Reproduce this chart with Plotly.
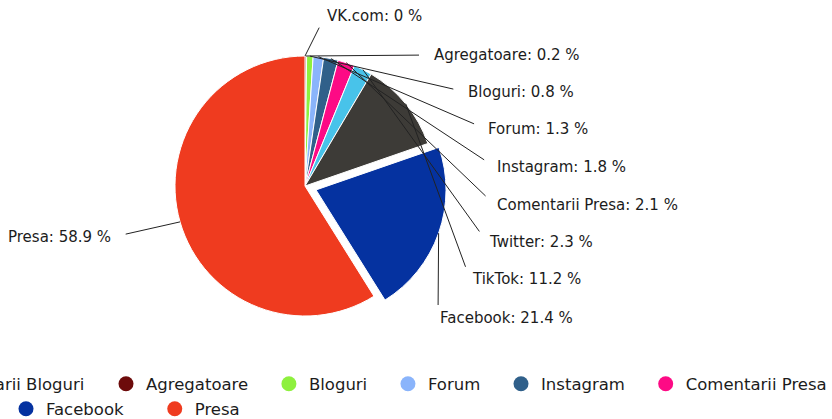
import math
import plotly.graph_objects as go

# slices, clockwise from 12 o'clock
labels = ["VK.com", "Agregatoare", "Bloguri", "Forum", "Instagram",
          "Comentarii Presa", "Twitter", "TikTok", "Facebook", "Presa"]
values = [0, 0.2, 0.8, 1.3, 1.8, 2.1, 2.3, 11.2, 21.4, 58.9]
colors = ["#f7a35c", "#6d0b0b", "#8ef03e", "#8ab4fb", "#30608a",
          "#fd0a85", "#48c3ea", "#3d3b37", "#0532a0", "#ef3b1f"]

# legend rows visible under the pie
legend_row1a = ["Comentarii Bloguri"]
legend_row1b = ["Agregatoare", "Bloguri", "Forum", "Instagram", "Comentarii Presa"]
legend_row2 = ["Facebook", "Presa"]
color_of = dict(zip(labels, colors))
color_of["Comentarii Bloguri"] = "#e4d354"

W, H = 832, 419
CX, CY, R = 305, 186, 130
PULL = 0.09
FONT = "DejaVu Sans"

# where each data label sits (left/right edge x, centre y, anchor) in px
label_pos = {
    "VK.com": (325, 16, "left"),
    "Agregatoare": (432, 55, "left"),
    "Bloguri": (466, 92, "left"),
    "Forum": (486, 129, "left"),
    "Instagram": (495, 167, "left"),
    "Comentarii Presa": (495, 205, "left"),
    "Twitter": (487, 242, "left"),
    "TikTok": (470, 279, "left"),
    "Facebook": (438, 318, "left"),
    "Presa": (113, 237, "right"),
}

pulls = [PULL if l == "Facebook" else 0 for l in labels]
half = R * (1 + PULL)

fig = go.Figure()
fig.add_trace(go.Pie(
    labels=labels, values=values, sort=False, direction="clockwise", rotation=0,
    marker=dict(colors=colors, line=dict(color="white", width=1)),
    pull=pulls, textinfo="none", showlegend=False,
    domain=dict(x=[(CX - half) / W, (CX + half) / W],
                y=[1 - (CY + half) / H, 1 - (CY - half) / H]),
))

# dummy traces for the legend rows (non-breaking spaces widen the item gaps)
for names, lg, pad in [(legend_row1a, "legend", 0), (legend_row1b, "legend2", 3),
                       (legend_row2, "legend3", 5)]:
    for i, n in enumerate(names):
        gap = "\u00a0" * pad if i < len(names) - 1 else ""
        fig.add_trace(go.Scatter(
            x=[None], y=[None], mode="markers", name=n + gap,
            marker=dict(color=color_of[n], size=15), legend=lg,
        ))

# connector labels
total = sum(values)
cum = 0
anns = []
for name, v in zip(labels, values):
    th = 2 * math.pi * (cum + v / 2) / total
    cum += v
    cx, cy = CX, CY
    if name == "Facebook":
        cx += PULL * R * math.sin(th)
        cy -= PULL * R * math.cos(th)
    hx = cx + R * math.sin(th)
    hy = cy - R * math.cos(th)
    tx, ty, anc = label_pos[name]
    anns.append(dict(
        x=hx / W, y=1 - hy / H, xref="paper", yref="paper",
        ax=tx - hx, ay=ty - hy, xanchor=anc, yanchor="middle",
        text=f"{name}: {v:g} %", showarrow=True, arrowhead=0,
        arrowwidth=1, arrowcolor="#222", startstandoff=13,
        font=dict(family=FONT, size=15, color="#1c1c1c"),
    ))

leg = dict(orientation="h", xanchor="left", yanchor="middle",
           bgcolor="rgba(0,0,0,0)", itemwidth=30,
           font=dict(family=FONT, size=16.5, color="#1c1c1c"))

fig.update_layout(
    width=W, height=H,
    margin=dict(l=0, r=0, t=0, b=0, autoexpand=False),
    paper_bgcolor="white", plot_bgcolor="white",
    xaxis=dict(visible=False), yaxis=dict(visible=False),
    annotations=anns,
    legend=dict(leg, x=-110 / W, y=(H - 384) / H),
    legend2=dict(leg, x=106 / W, y=(H - 384) / H),
    legend3=dict(leg, x=6 / W, y=(H - 409) / H),
)

# drop the page's default body margin so the chart fills the window
fig.write_html("out.html", config={"displayModeBar": False},
               post_script="document.body.style.margin='0';")
